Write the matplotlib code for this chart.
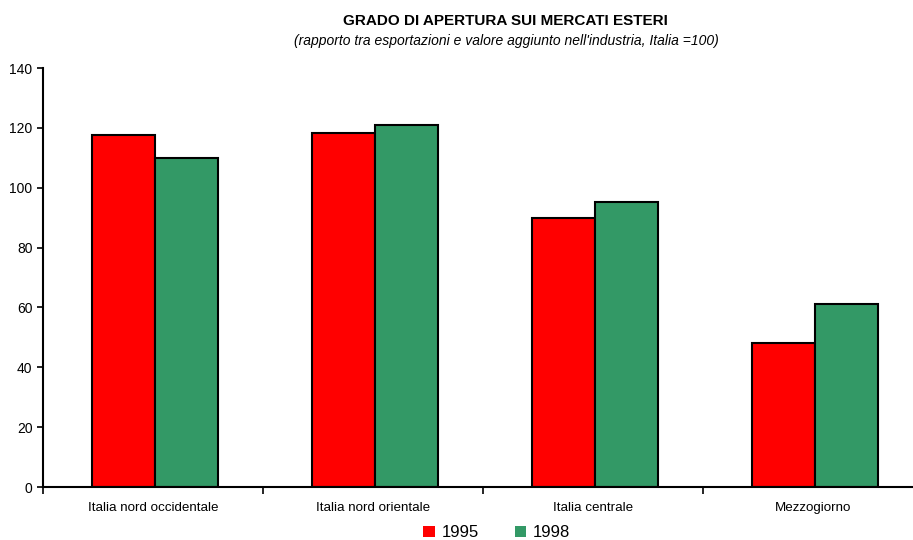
import matplotlib.pyplot as plt
from matplotlib.patches import Patch
import numpy as np

plt.rcParams["font.family"] = ["Liberation Sans", "DejaVu Sans"]

regions = ["Italia nord occidentale", "Italia nord orientale", "Italia centrale", "Mezzogiorno"]
vals_1995 = [117.7, 118.3, 90.0, 48.3]
vals_1998 = [110.0, 121.0, 95.3, 61.0]
years = ["1995", "1998"]
colors = ["#ff0000", "#339966"]


def main() -> None:
    fig = plt.figure(figsize=(9.13, 5.4), dpi=100)
    ax = fig.add_axes([0.047, 0.098, 0.964, 0.776])

    x = np.arange(len(regions))
    w = 0.286
    off = 0.01
    ax.bar(x - w / 2 + off, vals_1995, w, color=colors[0], edgecolor="black", linewidth=1.5)
    ax.bar(x + w / 2 + off, vals_1998, w, color=colors[1], edgecolor="black", linewidth=1.5)

    ax.set_xlim(-0.5, len(regions) - 0.5)
    ax.set_ylim(0, 140)
    ax.set_yticks(range(0, 141, 20))
    ax.set_xticks(x)
    ax.set_xticklabels(regions, fontsize=9.6)
    ax.set_xticks(np.arange(-0.5, len(regions), 1), minor=True)
    ax.tick_params(axis="x", which="major", length=0, pad=11)
    ax.tick_params(axis="x", which="minor", length=5, width=1.2)
    ax.tick_params(axis="y", labelsize=10, length=4, width=1.2)

    for s in ["top", "right"]:
        ax.spines[s].set_visible(False)
    ax.spines["left"].set_linewidth(1.5)
    ax.spines["bottom"].set_linewidth(1.5)

    fig.text(0.554, 0.962, "GRADO DI APERTURA SUI MERCATI ESTERI",
             ha="center", va="center", fontsize=11, fontweight="bold")
    fig.text(0.555, 0.925, "(rapporto tra esportazioni e valore aggiunto nell'industria, Italia =100)",
             ha="center", va="center", fontsize=10, style="italic")

    handles = [Patch(facecolor=c, edgecolor="none") for c in colors]
    fig.legend(handles, years, loc="center", bbox_to_anchor=(0.544, 0.013), ncol=2,
               frameon=False, fontsize=12, handlelength=0.7, handleheight=0.7,
               handletextpad=0.4, columnspacing=2.15)

    fig.savefig("out.png", dpi=100)


if __name__ == "__main__":
    main()
